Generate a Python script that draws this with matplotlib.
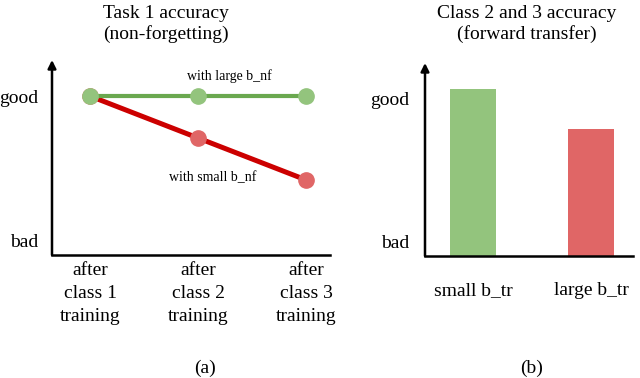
import matplotlib
matplotlib.use("Agg")
import matplotlib.pyplot as plt

plt.rcParams['font.family'] = ['Liberation Serif', 'DejaVu Serif']

# left panel: task 1 accuracy after each stage
stages = ["after\nclass 1\ntraining", "after\nclass 2\ntraining", "after\nclass 3\ntraining"]
large_bnf = [0.815, 0.815, 0.815]
small_bnf = [0.815, 0.60, 0.385]

# right panel: forward transfer
settings = ["small b_tr", "large b_tr"]
transfer = [0.865, 0.658]

level_labels = ["bad", "good"]
level_pos = [0.075, 0.815]

W, H = 640, 378
fig = plt.figure(figsize=(6.4, 3.78), dpi=100)


def px_axes(x0, x1, ytop, ybot):
    return fig.add_axes([x0 / W, (H - ybot) / H, (x1 - x0) / W, (ybot - ytop) / H])


def style_axes(ax):
    for s in ax.spines.values():
        s.set_visible(False)
    ax.annotate("", xy=(0, 1), xytext=(0, 0), xycoords="axes fraction",
                arrowprops=dict(arrowstyle="-|>", color="black", lw=1.8,
                                mutation_scale=12, shrinkA=0, shrinkB=0))
    ax.plot([0, 1], [0, 0], color="black", lw=1.8, transform=ax.transAxes,
            clip_on=False)
    ax.set_ylim(0, 1)
    ax.set_yticks(level_pos)
    ax.set_yticklabels(level_labels, fontsize=14)
    ax.tick_params(length=0)


# (a)
ax1 = px_axes(52, 330, 60, 255)
style_axes(ax1)
x = range(len(stages))
ax1.plot(x, small_bnf, color="#cc0000", lw=3.6, marker="o", ms=11,
         mfc="#e06666", mec="#e06666", zorder=3)
ax1.plot(x, large_bnf, color="#6aa84f", lw=3.0, marker="o", ms=11,
         mfc="#93c47d", mec="#93c47d", zorder=4)
ax1.set_xlim(-0.352, 2.222)
ax1.set_xticks(list(x))
ax1.set_xticklabels(stages, fontsize=14, linespacing=1.45)
ax1.tick_params(axis="x", pad=5)
ax1.tick_params(axis="y", pad=10)
ax1.text(1.29, 0.915, "with large b_nf", ha="center", va="center", fontsize=10)
ax1.text(1.14, 0.395, "with small b_nf", ha="center", va="center", fontsize=10)
ax1.set_title("Task 1 accuracy\n(non-forgetting)", fontsize=14, pad=15,
              linespacing=1.25, x=0.41)

# (b)
ax2 = px_axes(425, 633, 63, 256)
style_axes(ax2)
ax2.bar(range(len(settings)), transfer, width=0.39, color=["#93c47d", "#e06666"])
ax2.set_xlim(-0.407, 1.356)
ax2.set_xticks(range(len(settings)))
ax2.set_xticklabels(settings, fontsize=14)
ax2.tick_params(axis="x", pad=19)
ax2.tick_params(axis="y", pad=11)
ax2.set_title("Class 2 and 3 accuracy\n(forward transfer)", fontsize=14, pad=17,
              linespacing=1.25, x=0.49)

fig.text(205 / W, 1 - 368 / H, "(a)", ha="center", va="center", fontsize=14)
fig.text(532 / W, 1 - 368 / H, "(b)", ha="center", va="center", fontsize=14)

fig.savefig("out.png", dpi=100)
